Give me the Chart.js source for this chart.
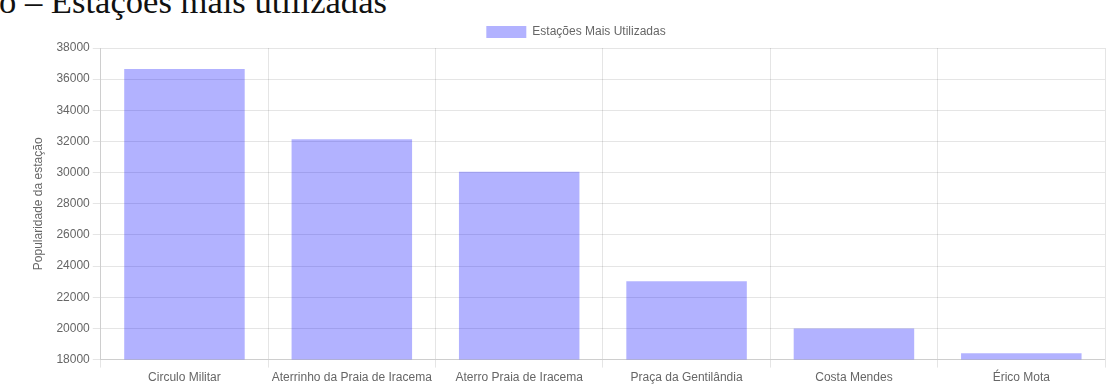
<!DOCTYPE html>
<html>
<head>
<meta charset="utf-8">
<script src="https://cdn.jsdelivr.net/npm/chart.js@4.4.1/dist/chart.umd.min.js"></script>
<style>
  html, body { margin: 0; padding: 0; background: #fff; overflow: hidden; }
  #page { position: relative; width: 1114px; height: 390px; }
  #caption {
    position: absolute; left: -1px; top: -16px;
    font-family: "Liberation Serif", "Times New Roman", serif;
    font-size: 34.6px; line-height: 34px; color: #111; white-space: nowrap;
  }
  #container-canvas { position: absolute; left: 0; top: 16px; width: 1114px; height: 374px; }
</style>
</head>
<body>
<div id="page">
  <div id="caption">o – Estações mais utilizadas</div>
  <div id="container-canvas">
    <canvas id="myChart" width="1114" height="374"></canvas>
  </div>
</div>
<script>
const estacoes = [
  "Circulo Militar",
  "Aterrinho da Praia de Iracema",
  "Aterro Praia de Iracema",
  "Praça da Gentilândia",
  "Costa Mendes",
  "Érico Mota"
];
const popularidade = [36650, 32150, 30050, 23030, 19990, 18400];
const yMin = 18000;
const yMax = 38000;
const yStep = 2000;

Chart.defaults.font.family = "'Liberation Sans', Arial, Helvetica, sans-serif";
Chart.defaults.font.size = 12;
Chart.defaults.color = '#666';

// the legend in the original sits a bit right of the canvas centre
const shiftLegend = {
  id: 'shiftLegend',
  afterLayout(chart) {
    chart.legend.left += 10;
    chart.legend.right += 10;
  }
};

const ctx = document.getElementById('myChart');
new Chart(ctx, {
  type: 'bar',
  data: {
    labels: estacoes,
    datasets: [
      {
        label: 'Estações Mais Utilizadas',
        data: popularidade,
        backgroundColor: 'rgba(0, 0, 255, 0.3)',
        borderWidth: 0
      }
    ]
  },
  options: {
    responsive: false,
    animation: false,
    layout: { padding: { left: 27, right: 9, top: 0, bottom: 2 } },
    plugins: {
      legend: {
        labels: { boxWidth: 40, boxHeight: 12, color: '#666' }
      },
      tooltip: { enabled: false }
    },
    scales: {
      x: {
        grid: { color: 'rgba(0,0,0,0.1)', offset: true },
        ticks: { color: '#666' }
      },
      y: {
        min: yMin,
        max: yMax,
        ticks: { stepSize: yStep, color: '#666', callback: (v) => String(v) },
        grid: { color: 'rgba(0,0,0,0.1)' },
        title: {
          display: true,
          text: 'Popularidade da estação',
          color: '#666',
          padding: { top: 4, bottom: 8 }
        }
      }
    }
  },
  plugins: [shiftLegend]
});
</script>
</body>
</html>
